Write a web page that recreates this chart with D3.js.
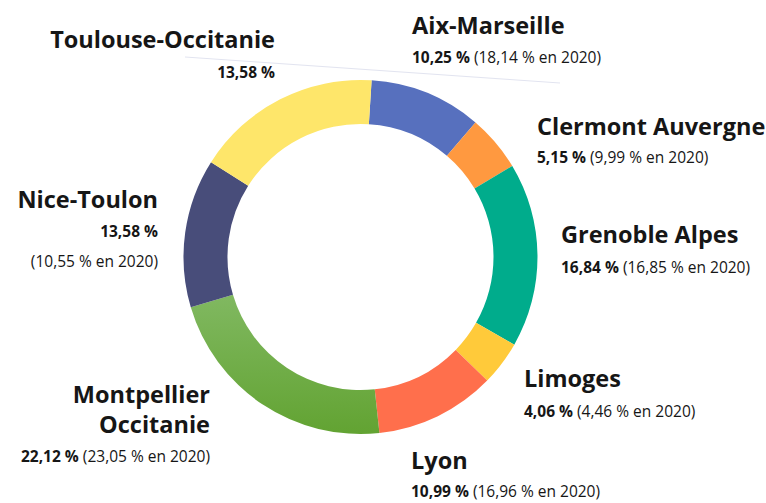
<!DOCTYPE html>
<html>
<head>
<meta charset="utf-8">
<script src="https://cdn.jsdelivr.net/npm/d3@7"></script>
<style>
  body { margin: 0; background: #fff; }
  svg text { font-family: "Open Sans", sans-serif; fill: #161616; }
</style>
</head>
<body>
<svg id="chart" width="766" height="503"></svg>
<script>
// data
var sites = ['Aix-Marseille', 'Clermont Auvergne', 'Grenoble Alpes', 'Limoges', 'Lyon', 'Montpellier Occitanie', 'Nice-Toulon', 'Toulouse-Occitanie'];
var shares = [10.25, 5.15, 16.84, 4.06, 10.99, 22.12, 13.58, 17.0];
var shareLabels = ['10,25 %', '5,15 %', '16,84 %', '4,06 %', '10,99 %', '22,12 %', '13,58 %', '13,58 %'];
var labels2020 = ['(18,14 % en 2020)', '(9,99 % en 2020)', '(16,85 % en 2020)', '(4,46 % en 2020)', '(16,96 % en 2020)', '(23,05 % en 2020)', '(10,55 % en 2020)', ''];
var colors = ['#5770be', '#ff9940', '#00ac8c', '#ffca3a', '#ff6f4c', 'url(#greenGrad)', '#484d7a', '#fee66a'];

// label placement
var labelPos = [
	{x: 412, ty: 34, sy: 63, anchor: 'start'},
	{x: 537, ty: 135, sy: 163, anchor: 'start'},
	{x: 561, ty: 243, sy: 273, anchor: 'start'},
	{x: 524, ty: 387, sy: 417, anchor: 'start'},
	{x: 411, ty: 469, sy: 497, anchor: 'start'},
	{x: 210, ty: 403, sy: 462, anchor: 'end', lines: ['Montpellier', 'Occitanie'], lineGap: 30},
	{x: 158, ty: 208, sy: 237, anchor: 'end', split: 30},
	{x: 275, ty: 48, sy: 78, anchor: 'end'}
];

var svg = d3.select('#chart');
var cx = 360.5, cy = 257, rOuter = 177, rInner = 133;

var defs = svg.append('defs');
var grad = defs.append('linearGradient')
	.attr('id', 'greenGrad')
	.attr('gradientUnits', 'userSpaceOnUse')
	.attr('x1', 0).attr('y1', 40)
	.attr('x2', 0).attr('y2', rOuter);
grad.append('stop').attr('offset', '0%').attr('stop-color', '#80b860');
grad.append('stop').attr('offset', '100%').attr('stop-color', '#62a332');

// faint leader line
svg.append('line')
	.attr('x1', 185).attr('y1', 57)
	.attr('x2', 560).attr('y2', 83)
	.style('stroke', '#e2e4f0')
	.style('stroke-width', 1);

var startOffset = 3.6 * Math.PI / 180;
var pie = d3.pie().sort(null)
	.startAngle(startOffset)
	.endAngle(startOffset + 2 * Math.PI);
var arc = d3.arc().innerRadius(rInner).outerRadius(rOuter);

svg.append('g')
	.attr('transform', `translate(${cx},${cy})`)
	.selectAll('path')
	.data(pie(shares))
	.join('path')
	.attr('d', arc)
	.style('fill', (d, i) => colors[i]);

// labels
var lg = svg.append('g');
sites.forEach(function(name, i) {
	var p = labelPos[i];
	var lines = p.lines || [name];
	lines.forEach(function(l, j) {
		lg.append('text')
			.attr('x', p.x)
			.attr('y', p.ty + j * (p.lineGap || 0))
			.attr('text-anchor', p.anchor)
			.style('font-size', '23.5px')
			.style('font-weight', 700)
			.text(l);
	});
	var t = lg.append('text')
		.attr('x', p.x)
		.attr('y', p.sy)
		.attr('text-anchor', p.anchor)
		.style('font-size', '15.5px');
	t.append('tspan').style('font-weight', 700).text(shareLabels[i]);
	if (labels2020[i]) {
		if (p.split) {
			lg.append('text')
				.attr('x', p.x)
				.attr('y', p.sy + p.split)
				.attr('text-anchor', p.anchor)
				.style('font-size', '15.5px')
				.text(labels2020[i]);
		} else {
			t.append('tspan').text(' ' + labels2020[i]);
		}
	}
});
</script>
</body>
</html>
